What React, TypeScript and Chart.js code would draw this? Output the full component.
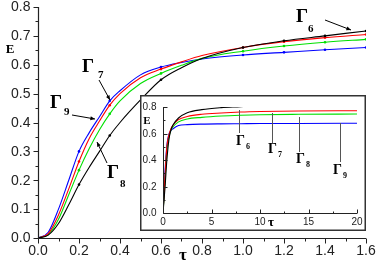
import React, { useEffect, useRef, useState } from 'react';
import { Chart, registerables } from 'chart.js';
Chart.register(...registerables);

// ---- main plot data ----
const tauMain = [0, 0.05, 0.1, 0.15, 0.2, 0.25, 0.3, 0.35, 0.4, 0.5, 0.6, 0.7, 0.8, 1.0, 1.2, 1.4, 1.6];
const g6Main = [0, 0.01, 0.05, 0.115, 0.185, 0.245, 0.3, 0.355, 0.4, 0.478, 0.548, 0.59, 0.622, 0.66, 0.683, 0.7, 0.717];
const g7Main = [0, 0.015, 0.08, 0.17, 0.265, 0.345, 0.405, 0.46, 0.5, 0.555, 0.585, 0.61, 0.632, 0.66, 0.68, 0.694, 0.705];
const g8Main = [0, 0.012, 0.065, 0.15, 0.235, 0.31, 0.375, 0.43, 0.475, 0.535, 0.57, 0.598, 0.622, 0.647, 0.665, 0.678, 0.688];
const g9Main = [0, 0.02, 0.1, 0.2, 0.3, 0.365, 0.42, 0.475, 0.51, 0.565, 0.592, 0.608, 0.62, 0.634, 0.643, 0.652, 0.66];
const markerTau = [0.2, 0.35, 0.6, 1.0, 1.2, 1.4, 1.6];

// ---- inset data ----
const tauInset = [0, 0.2, 0.4, 0.6, 0.8, 1.0, 1.6, 2.5, 4, 6, 8, 10, 14, 20];
const g6Inset = [0, 0.185, 0.4, 0.548, 0.622, 0.66, 0.717, 0.757, 0.78, 0.795, 0.803, 0.81, 0.815, 0.82];
const g7Inset = [0, 0.265, 0.5, 0.585, 0.632, 0.66, 0.705, 0.728, 0.745, 0.755, 0.762, 0.766, 0.77, 0.772];
const g8Inset = [0, 0.235, 0.475, 0.57, 0.622, 0.647, 0.688, 0.71, 0.722, 0.732, 0.738, 0.742, 0.745, 0.747];
const g9Inset = [0, 0.3, 0.51, 0.592, 0.62, 0.634, 0.66, 0.667, 0.671, 0.673, 0.674, 0.675, 0.676, 0.677];

const seriesNames = ['Γ6', 'Γ7', 'Γ8', 'Γ9'];
const seriesColors = ['#000000', '#ff0000', '#00e000', '#0000ff'];

// ticks
const mainXMajor = [0, 0.2, 0.4, 0.6, 0.8, 1.0, 1.2, 1.4, 1.6];
const mainXMinor = [0.1, 0.3, 0.5, 0.7, 0.9, 1.1, 1.3, 1.5];
const mainYMajor = [0, 0.1, 0.2, 0.3, 0.4, 0.5, 0.6, 0.7, 0.8];
const mainYMinor = [0.05, 0.15, 0.25, 0.35, 0.45, 0.55, 0.65, 0.75];
const mainXLabels = ['0.0', '0.2', '0.4', '0.6', '0.8', '1.0', '1.2', '1.4', '1.6'];
const mainYLabels = ['0.0', '0.1', '0.2', '0.3', '0.4', '0.5', '0.6', '0.7', '0.8'];
const insetXMajor = [0, 5, 10, 15, 20];
const insetXMinor = [2.5, 7.5, 12.5, 17.5];
const insetYMajor = [0, 0.2, 0.4, 0.6, 0.8];
const insetYMinor = [0.1, 0.3, 0.5, 0.7];
const insetXLabels = ['0', '5', '10', '15', '20'];
const insetYLabels = ['0.0', '0.2', '0.4', '0.6', '0.8'];

const SERIF = '"Liberation Serif", "Times New Roman", serif';
const SANS = '"Liberation Sans", Arial, sans-serif';

function mkData(tau: number[], vals: number[]) {
  return tau.map((t, i) => ({ x: t, y: vals[i] }));
}

function drawAxes(chart: any, cfg: any) {
  const { ctx, chartArea } = chart;
  const xs = chart.scales.x, ys = chart.scales.y;
  const L = Math.round(chartArea.left) + 0.5;
  const B = Math.round(chartArea.bottom) + 0.5;
  const T = Math.round(chartArea.top);
  const R = Math.round(chartArea.right);
  const d = cfg.inward ? -1 : 1;
  ctx.save();
  ctx.strokeStyle = cfg.color;
  ctx.lineWidth = cfg.lw;
  ctx.beginPath();
  ctx.moveTo(L, T);
  ctx.lineTo(L, B);
  ctx.lineTo(R, B);
  ctx.stroke();
  ctx.lineWidth = 1;
  ctx.beginPath();
  cfg.xMajor.forEach((v: number) => {
    const p = Math.round(xs.getPixelForValue(v)) + 0.5;
    ctx.moveTo(p, B); ctx.lineTo(p, B + d * cfg.major);
  });
  cfg.xMinor.forEach((v: number) => {
    const p = Math.round(xs.getPixelForValue(v)) + 0.5;
    ctx.moveTo(p, B); ctx.lineTo(p, B + d * cfg.minor);
  });
  cfg.yMajor.forEach((v: number) => {
    const p = Math.round(ys.getPixelForValue(v)) + 0.5;
    ctx.moveTo(L, p); ctx.lineTo(L - d * cfg.major, p);
  });
  cfg.yMinor.forEach((v: number) => {
    const p = Math.round(ys.getPixelForValue(v)) + 0.5;
    ctx.moveTo(L, p); ctx.lineTo(L - d * cfg.minor, p);
  });
  ctx.stroke();
  ctx.restore();

  ctx.save();
  ctx.fillStyle = cfg.labelColor;
  ctx.font = `${cfg.fontSize}px ${SANS}`;
  ctx.textBaseline = 'middle';
  ctx.textAlign = 'center';
  for (let i = 0; i < cfg.xMajor.length; i++) {
    ctx.fillText(cfg.xLabels[i], xs.getPixelForValue(cfg.xMajor[i]), B + cfg.xLabelOffset);
  }
  if (cfg.yLabels) {
    ctx.textAlign = 'right';
    for (let i = 0; i < cfg.yMajor.length; i++) {
      ctx.fillText(cfg.yLabels[i], L - cfg.yLabelOffset, ys.getPixelForValue(cfg.yMajor[i]) + 0.5);
    }
  }
  ctx.restore();
}

function arrow(ctx: any, x1: number, y1: number, x2: number, y2: number, head: number) {
  ctx.beginPath();
  ctx.moveTo(x1, y1);
  ctx.lineTo(x2, y2);
  ctx.stroke();
  const a = Math.atan2(y2 - y1, x2 - x1);
  ctx.beginPath();
  ctx.moveTo(x2, y2);
  ctx.lineTo(x2 - head * Math.cos(a - 0.4), y2 - head * Math.sin(a - 0.4));
  ctx.lineTo(x2 - head * Math.cos(a + 0.4), y2 - head * Math.sin(a + 0.4));
  ctx.closePath();
  ctx.fill();
}

function gammaLabel(ctx: any, name: string, x: number, y: number, big: number, small: number, subX: number, subY: number) {
  ctx.font = `bold ${big}px ${SERIF}`;
  ctx.textAlign = 'left';
  ctx.textBaseline = 'alphabetic';
  ctx.fillText(name.charAt(0), x, y);
  ctx.font = `bold ${small}px ${SERIF}`;
  ctx.fillText(name.slice(1), subX, subY);
}

const mainCfg = {
  inward: false, color: '#222', lw: 1.2, major: 5, minor: 3,
  xMajor: mainXMajor, xMinor: mainXMinor, yMajor: mainYMajor, yMinor: mainYMinor,
  xLabels: mainXLabels, yLabels: mainYLabels, fontSize: 14, labelColor: '#222',
  xLabelOffset: 12.5, yLabelOffset: 8,
};

const insetCfg = {
  inward: true, color: '#222', lw: 1, major: 4, minor: 2,
  xMajor: insetXMajor, xMinor: insetXMinor, yMajor: insetYMajor, yMinor: insetYMinor,
  xLabels: insetXLabels, yLabels: null, fontSize: 10, labelColor: '#222',
  xLabelOffset: 9, yLabelOffset: 6,
};

const mainAnnot = {
  id: 'mainAnnot',
  afterDraw(chart: any) {
    drawAxes(chart, mainCfg);
    const { ctx } = chart;
    ctx.save();
    ctx.fillStyle = '#000';
    ctx.strokeStyle = '#000';
    ctx.lineWidth = 1;
    ctx.font = `bold 13px ${SERIF}`;
    ctx.textAlign = 'center';
    ctx.textBaseline = 'middle';
    ctx.fillText('E', 10, 50);
    ctx.font = `bold 17px ${SERIF}`;
    ctx.fillText('τ', 183, 256);
    gammaLabel(ctx, seriesNames[0], 296, 22, 19, 11, 308, 32);
    arrow(ctx, 325, 20, 351, 30, 5);
    gammaLabel(ctx, seriesNames[1], 82, 72, 19, 11, 98, 78);
    arrow(ctx, 99, 80, 110, 100, 5);
    gammaLabel(ctx, seriesNames[2], 107, 178, 19, 11, 120, 187);
    arrow(ctx, 107, 163, 97, 142, 5);
    gammaLabel(ctx, seriesNames[3], 50, 108, 19, 11, 64, 115);
    arrow(ctx, 72, 115, 95, 119, 5);
    ctx.restore();
  },
};

const INSET_LEFT = 140, INSET_TOP = 95;

const insetAnnot = {
  id: 'insetAnnot',
  beforeDraw(chart: any) {
    const { ctx, width, height } = chart;
    ctx.save();
    ctx.fillStyle = '#fff';
    ctx.fillRect(0, 0, width, height);
    ctx.restore();
  },
  afterDraw(chart: any) {
    const { ctx, width, height } = chart;
    const ox = INSET_LEFT, oy = INSET_TOP;
    ctx.save();
    ctx.strokeStyle = '#333';
    ctx.lineWidth = 1.5;
    ctx.strokeRect(0.75, 0.75, width - 1.5, height - 1.5);
    ctx.strokeStyle = '#555';
    ctx.lineWidth = 1;
    const lines = [
      [239, 110, 133],
      [272, 113, 143],
      [299, 117, 152],
      [340, 123, 162],
    ];
    ctx.beginPath();
    lines.forEach(([x, y1, y2]) => {
      ctx.moveTo(x - ox + 0.5, y1 - oy);
      ctx.lineTo(x - ox + 0.5, y2 - oy);
    });
    ctx.stroke();
    ctx.fillStyle = '#000';
    gammaLabel(ctx, seriesNames[0], 236 - ox, 145 - oy, 14, 8, 246 - ox, 149 - oy);
    gammaLabel(ctx, seriesNames[1], 268 - ox, 153 - oy, 14, 8, 278 - ox, 157 - oy);
    gammaLabel(ctx, seriesNames[2], 296 - ox, 163 - oy, 14, 8, 306 - ox, 167 - oy);
    gammaLabel(ctx, seriesNames[3], 333 - ox, 174 - oy, 14, 8, 343 - ox, 178 - oy);
    ctx.font = `bold 13px ${SERIF}`;
    ctx.textAlign = 'center';
    ctx.textBaseline = 'middle';
    ctx.fillText('τ', 271 - ox, 223 - oy);
    ctx.restore();
    drawAxes(chart, insetCfg);
  },
};

function makeDatasets(tau: number[], series: number[][], withMarkers: boolean) {
  return series.map((vals, i) => ({
    label: seriesNames[i],
    data: mkData(tau, vals),
    borderColor: seriesColors[i],
    backgroundColor: seriesColors[i],
    pointBackgroundColor: seriesColors[i],
    pointBorderWidth: 0,
    pointRadius: (c: any) => (withMarkers && markerTau.includes(tau[c.dataIndex]) ? 1.3 : 0),
    borderWidth: 1.1,
    cubicInterpolationMode: 'monotone' as const,
    fill: false,
  }));
}

const hiddenScale = (min: number, max: number, size: number, isX: boolean) => ({
  type: 'linear' as const,
  min,
  max,
  afterFit: (s: any) => { if (isX) s.height = size; else s.width = size; },
  grid: { display: false },
  border: { display: false },
  ticks: { display: false },
});

export default function App() {
  const mainRef = useRef<HTMLCanvasElement>(null);
  const insetRef = useRef<HTMLCanvasElement>(null);
  const [insetY, setInsetY] = useState<{ label: string; top: number; right: number }[]>([]);

  useEffect(() => {
    const main = new Chart(mainRef.current as HTMLCanvasElement, {
      type: 'line',
      data: { datasets: makeDatasets(tauMain, [g6Main, g7Main, g8Main, g9Main], true) as any },
      options: {
        responsive: false,
        animation: false,
        events: [],
        layout: { padding: { top: 7, right: 16, left: 0, bottom: 0 } },
        plugins: { legend: { display: false }, tooltip: { enabled: false } },
        scales: {
          x: hiddenScale(0, 1.6, 27, true),
          y: hiddenScale(0, 0.8, 38, false),
        },
      },
      plugins: [mainAnnot],
    });

    const inset = new Chart(insetRef.current as HTMLCanvasElement, {
      type: 'line',
      data: { datasets: makeDatasets(tauInset, [g6Inset, g7Inset, g8Inset, g9Inset], false) as any },
      options: {
        responsive: false,
        animation: false,
        events: [],
        layout: { padding: { top: 12, right: 9, left: 0, bottom: 0 } },
        plugins: { legend: { display: false }, tooltip: { enabled: false } },
        scales: {
          x: hiddenScale(0, 20, 18, true),
          y: hiddenScale(0, 0.8, 23, false),
        },
      },
      plugins: [insetAnnot],
    });

    const ys: any = inset.scales.y;
    const left = inset.chartArea.left;
    setInsetY(
      insetYMajor.map((v, i) => ({
        label: insetYLabels[i],
        top: INSET_TOP + ys.getPixelForValue(v),
        right: INSET_LEFT + left - 6.5,
      }))
    );

    return () => {
      main.destroy();
      inset.destroy();
    };
  }, []);

  const txt: React.CSSProperties = {
    position: 'absolute',
    zIndex: 3,
    fontFamily: SANS,
    fontSize: 10,
    lineHeight: '12px',
    height: 12,
    color: '#222',
    whiteSpace: 'nowrap',
    textAlign: 'right',
    width: 30,
  };

  return (
    <div style={{ position: 'absolute', left: 0, top: 0, width: 382, height: 265, background: '#fff', overflow: 'hidden' }}>
      <canvas ref={mainRef} width={382} height={265} style={{ position: 'absolute', left: 0, top: 0, zIndex: 1 }} />
      <canvas ref={insetRef} width={226} height={136} style={{ position: 'absolute', left: INSET_LEFT, top: INSET_TOP, zIndex: 2 }} />
      {insetY.map((t) => (
        <div key={t.label} style={{ ...txt, left: t.right - 30, top: t.top - 6 }}>{t.label}</div>
      ))}
      <div style={{ ...txt, textAlign: 'center', width: 12, left: 141, top: 114, fontFamily: SERIF, fontWeight: 'bold', fontSize: 11, color: '#000' }}>E</div>
    </div>
  );
}
